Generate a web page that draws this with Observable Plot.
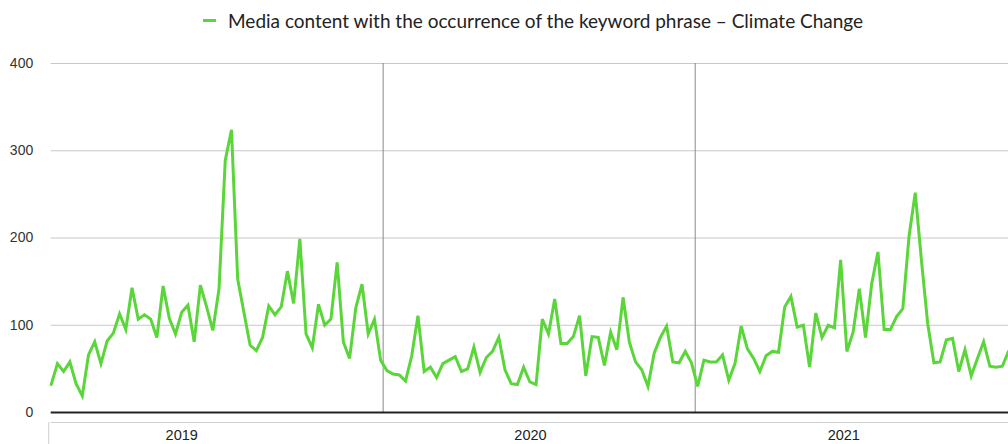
<!DOCTYPE html>
<html>
<head>
<meta charset="utf-8">
<script src="https://cdn.jsdelivr.net/npm/d3@7"></script>
<script src="https://cdn.jsdelivr.net/npm/@observablehq/plot@0.6"></script>
<style>
  html, body { margin: 0; padding: 0; background: #fff; }
  #legend { height: 40px; display: flex; align-items: center; justify-content: flex-start; padding-left: 203px; box-sizing: border-box; font-family: Lato, "Open Sans", sans-serif; font-size: 19px; color: #222; }
  #legend .sw { display: inline-block; width: 13px; height: 3px; background: #5ad63a; margin-right: 12px; position: relative; top: 0px; }
  #chart svg { display: block; }
</style>
</head>
<body>
<div id="legend"><span class="sw"></span><span id="legend-text"></span></div>
<div id="chart"></div>
<script>
// Series label
const seriesName = "Media content with the occurrence of the keyword phrase – Climate Change";

// Weekly counts, one per week in order
const mentions = [
  32, 56, 47, 58, 33, 19, 66, 81, 56, 82,
  91, 113, 95, 143, 107, 112, 107, 86, 145, 108,
  90, 115, 123, 81, 146, 121, 94, 142, 289, 324,
  153, 115, 77, 71, 86, 122, 112, 121, 162, 125,
  199, 90, 74, 124, 100, 107, 172, 81, 62, 120,
  147, 90, 107, 60, 48, 44, 43, 36, 65, 111,
  47, 52, 40, 56, 60, 64, 47, 50, 75, 46,
  63, 70, 86, 49, 33, 32, 52, 35, 32, 107,
  90, 130, 79, 79, 87, 111, 42, 87, 86, 54,
  92, 72, 132, 81, 58, 49, 30, 68, 86, 99,
  58, 57, 70, 57, 30, 60, 58, 58, 66, 37,
  56, 99, 73, 62, 47, 65, 70, 69, 121, 133,
  98, 100, 52, 114, 86, 100, 97, 175, 70, 92,
  142, 86, 148, 184, 95, 95, 110, 119, 202, 252,
  174, 102, 57, 58, 83, 85, 47, 72, 42, 62,
  81, 53, 52, 53, 70
];

// Year category labels and where they sit (in week index units)
const years = ["2019", "2020", "2021"];
const yearLabelWeek = [21, 77.1, 127.5];
// Year separators (in week index units)
const yearBreakWeek = [53.4, 103.6];

// Y axis ticks
const yTicks = [0, 100, 200, 300, 400];

document.getElementById("legend-text").textContent = seriesName;

const data = mentions.map((v, i) => ({week: i, value: v}));

const chart = Plot.plot({
  width: 1008,
  height: 404,
  marginLeft: 50.7,
  marginRight: 0,
  marginTop: 23,
  marginBottom: 32,
  style: {fontFamily: "Helvetica, Arial, 'Liberation Sans', sans-serif", fontSize: "14px", color: "#222", background: "#fff"},
  x: {domain: [0, 154], axis: null},
  y: {domain: [0, 400], axis: null},
  marks: [
    Plot.ruleY(yTicks.filter(d => d > 0), {stroke: "#c8c8c8", strokeWidth: 1}),
    Plot.ruleX(yearBreakWeek, {y1: 0, y2: 400, stroke: "#8a8a8a", strokeWidth: 1}),
    Plot.ruleY([0], {dy: 10, stroke: "#d0d0d0", strokeWidth: 1}),
    Plot.ruleX([0], {dx: -2.5, y1: -11.5, y2: -37, stroke: "#d0d0d0", strokeWidth: 1, clip: false}),
    Plot.axisY({ticks: yTicks, tickSize: 0, tickPadding: 18, fontSize: 14, fill: "#333", label: null}),
    Plot.axisX({ticks: yearLabelWeek, tickSize: 0, tickPadding: 17, tickFormat: (d, i) => years[i], fontSize: 14.5, fill: "#222", label: null}),
    Plot.line(data, {x: "week", y: "value", stroke: "#5ad63a", strokeWidth: 3, strokeLinejoin: "miter", strokeMiterlimit: 4}),
    Plot.ruleY([0], {stroke: "#222", strokeWidth: 2})
  ]
});
document.getElementById("chart").appendChild(chart);
</script>
</body>
</html>
